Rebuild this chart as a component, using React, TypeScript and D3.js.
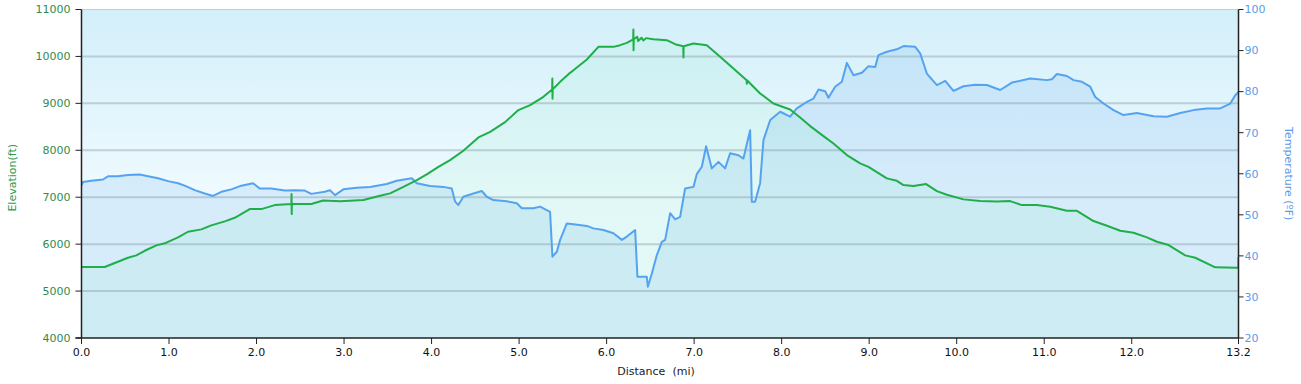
import React from 'react';
import * as d3 from 'd3';

// elevation profile, miles / feet
const elevDist = [
  0, 0.265, 0.531, 0.626, 0.722, 0.855, 0.951, 1.103, 1.217, 1.369, 1.483, 1.637, 1.751, 1.922, 2.055, 2.208,
  2.398, 2.4, 2.402, 2.404, 2.626, 2.76, 2.954, 3.221, 3.411, 3.526, 3.678, 3.831, 3.945, 4.078, 4.211, 4.363,
  4.535, 4.669, 4.84, 4.992, 5.126, 5.278, 5.378, 5.38, 5.382, 5.384, 5.469, 5.583, 5.621, 5.774, 5.906, 6.078,
  6.154, 6.231, 6.304, 6.306, 6.308, 6.31, 6.35, 6.36, 6.4, 6.42, 6.45, 6.535, 6.688, 6.783, 6.876, 6.878,
  6.88, 6.992, 7.145, 7.297, 7.449, 7.6, 7.602, 7.604, 7.754, 7.906, 8.097, 8.211, 8.326, 8.478, 8.592, 8.745,
  8.897, 8.992, 9.202, 9.316, 9.392, 9.506, 9.651, 9.774, 9.888, 10.078, 10.269, 10.459, 10.611, 10.745, 10.917,
  11.069, 11.259, 11.374, 11.563, 11.717, 11.869, 12.021, 12.174, 12.288, 12.421, 12.611, 12.726, 12.954, 13.2,
  13.219, 13.22,
];
const elevFt = [
  5512, 5512, 5710, 5761, 5859, 5974, 6017, 6144, 6264, 6315, 6400, 6485, 6562, 6747, 6747, 6832,
  6854, 7070, 6640, 6854, 6854, 6930, 6915, 6939, 7030, 7082, 7222, 7365, 7486, 7648, 7791, 7989,
  8274, 8393, 8600, 8856, 8962, 9139, 9296, 9530, 9100, 9300, 9458, 9650, 9707, 9935, 10204, 10204,
  10240, 10289, 10361, 10574, 10133, 10370, 10420, 10330, 10400, 10340, 10390, 10367, 10346, 10261, 10218, 9978,
  10218, 10276, 10240, 9991, 9744, 9494, 9420, 9494, 9211, 8998, 8870, 8700, 8515, 8302, 8146, 7897,
  7720, 7648, 7401, 7350, 7258, 7237, 7280, 7130, 7052, 6954, 6917, 6911, 6917, 6832, 6832,
  6796, 6711, 6711, 6492, 6392, 6285, 6242, 6144, 6051, 5981, 5761, 5710, 5506, 5497,
  5497, 5720,
];

// temperature, miles / ºF
const tempDist = [
  0, 0.017, 0.112, 0.246, 0.303, 0.417, 0.531, 0.665, 0.76, 0.874, 0.989, 1.103, 1.179, 1.294, 1.408, 1.503,
  1.598, 1.712, 1.826, 1.96, 2.037, 2.169, 2.322, 2.437, 2.551, 2.626, 2.779, 2.84, 2.897, 2.992, 3.145, 3.297,
  3.488, 3.602, 3.774, 3.831, 3.983, 4.135, 4.231, 4.269, 4.306, 4.363, 4.478, 4.574, 4.631, 4.706, 4.859, 4.974,
  5.031, 5.163, 5.24, 5.354, 5.381, 5.431, 5.469, 5.545, 5.621, 5.774, 5.849, 5.963, 6.078, 6.174, 6.231, 6.326,
  6.352, 6.459, 6.471, 6.517, 6.574, 6.631, 6.669, 6.726, 6.783, 6.84, 6.897, 6.992, 7.03, 7.088, 7.137, 7.202,
  7.278, 7.354, 7.411, 7.506, 7.563, 7.64, 7.659, 7.697, 7.754, 7.792, 7.869, 7.983, 8.097, 8.173, 8.288, 8.363,
  8.421, 8.497, 8.535, 8.611, 8.688, 8.745, 8.821, 8.917, 8.992, 9.069, 9.106, 9.202, 9.316, 9.392, 9.526, 9.583,
  9.659, 9.774, 9.869, 9.963, 10.078, 10.211, 10.345, 10.497, 10.631, 10.84, 11.031, 11.088, 11.145, 11.259, 11.335,
  11.431, 11.526, 11.583, 11.678, 11.792, 11.906, 12.059, 12.249, 12.402, 12.554, 12.707, 12.859, 13.011, 13.126,
  13.183, 13.22,
];
const tempF = [
  57.2, 58.0, 58.3, 58.6, 59.4, 59.4, 59.7, 59.8, 59.4, 58.9, 58.2, 57.7, 57.1, 56.0, 55.2, 54.6,
  55.6, 56.2, 57.1, 57.7, 56.4, 56.4, 55.9, 56.0, 55.9, 55.1, 55.6, 56.0, 54.8, 56.2, 56.6, 56.8,
  57.5, 58.3, 58.9, 57.7, 57.0, 56.8, 56.4, 53.2, 52.4, 54.4, 55.2, 55.8, 54.4, 53.6, 53.3, 52.8,
  51.6, 51.6, 52.0, 50.7, 39.8, 41.0, 43.9, 47.9, 47.7, 47.3, 46.7, 46.3, 45.5, 43.9, 44.7, 46.3,
  34.9, 34.9, 32.5, 35.7, 40.2, 43.4, 43.9, 50.4, 48.9, 49.5, 56.4, 56.8, 59.9, 61.7, 66.7, 61.3,
  62.9, 61.3, 65.0, 64.5, 63.7, 70.6, 53.2, 53.2, 57.7, 68.2, 73.1, 75.1, 73.9, 75.9, 77.5, 78.3,
  80.5, 80.1, 78.5, 81.2, 82.4, 87.0, 84.0, 84.6, 86.2, 86.0, 88.9, 89.7, 90.3, 91.1, 90.9, 89.3,
  84.4, 81.6, 82.6, 80.2, 81.3, 81.7, 81.6, 80.4, 82.2, 83.2, 82.8, 83.0, 84.3, 83.8, 82.8,
  82.4, 81.2, 78.7, 77.1, 75.5, 74.3, 74.8, 74.0, 73.9, 74.8, 75.5, 75.9, 75.9, 77.1,
  79.1, 79.9,
];

const distTicks = [0, 1, 2, 3, 4, 5, 6, 7, 8, 9, 10, 11, 12, 13.22];
const elevTicks = [4000, 5000, 6000, 7000, 8000, 9000, 10000, 11000];
const tempTicks = [20, 30, 40, 50, 60, 70, 80, 90, 100];

const W = 1301;
const H = 384;
const left = 81.5;
const right = 1238.5;
const top = 9.5;
const bottom = 338;
const font = '"DejaVu Sans", Verdana, sans-serif';

export default function App() {
  const x = d3.scaleLinear().domain([0, 13.22]).range([left, right]);
  const yE = d3.scaleLinear().domain([4000, 11000]).range([bottom, top]);
  const yT = d3.scaleLinear().domain([20, 100]).range([bottom, top]);

  const elev = elevDist.map((d, i) => [d, elevFt[i]] as [number, number]);
  const temp = tempDist.map((d, i) => [d, tempF[i]] as [number, number]);

  const elevArea = d3.area<[number, number]>().x((d) => x(d[0])).y0(bottom).y1((d) => yE(d[1]));
  const elevLine = d3.line<[number, number]>().x((d) => x(d[0])).y((d) => yE(d[1]));
  const tempArea = d3.area<[number, number]>().x((d) => x(d[0])).y0(bottom).y1((d) => yT(d[1]));
  const tempLine = d3.line<[number, number]>().x((d) => x(d[0])).y((d) => yT(d[1]));

  return (
    <svg width={W} height={H} style={{ position: 'absolute', left: 0, top: 0, background: '#fff' }}>
      <defs>
        <linearGradient id="bg" x1="0" y1="0" x2="0" y2="1">
          <stop offset="0%" stopColor="#d3effa" />
          <stop offset="55%" stopColor="#eefafe" />
          <stop offset="100%" stopColor="#f2fcfe" />
        </linearGradient>
        <clipPath id="plot">
          <rect x={left} y={top} width={right - left} height={bottom - top} />
        </clipPath>
      </defs>

      <rect x={left} y={top} width={right - left} height={bottom - top} fill="url(#bg)" />

      <g clipPath="url(#plot)">
        <path d={tempArea(temp) || ''} fill="rgba(95,165,240,0.17)" />
        <path d={elevArea(elev) || ''} fill="rgba(80,225,155,0.08)" />
        {elevTicks.slice(1, -1).map((t) => (
          <line key={t} x1={left} x2={right} y1={yE(t)} y2={yE(t)} stroke="rgba(140,160,170,0.45)" strokeWidth={2} />
        ))}
        <path d={tempLine(temp) || ''} fill="none" stroke="#55a3f0" strokeWidth={2} strokeLinejoin="round" />
        <path d={elevLine(elev) || ''} fill="none" stroke="#1fae48" strokeWidth={2} strokeLinejoin="round" />
      </g>

      <line x1={left} x2={right} y1={top} y2={top} stroke="#c4ccd0" strokeWidth={1} />

      {/* left axis */}
      <line x1={left} x2={left} y1={top} y2={bottom} stroke="#222" strokeWidth={1.5} />
      {elevTicks.map((t) => (
        <g key={t} transform={`translate(0,${yE(t)})`}>
          <line x1={left - 6} x2={left} stroke="#222" strokeWidth={1} />
          <text x={left - 11} dy="0.35em" textAnchor="end" fontSize={11} fontFamily={font} fill="#2e8b4f">
            {t}
          </text>
        </g>
      ))}
      <text
        transform={`translate(16,${(top + bottom) / 2 + 4}) rotate(-90)`}
        textAnchor="middle"
        fontSize={11}
        fontFamily={font}
        fill="#2e9a4f"
      >
        Elevation(ft)
      </text>

      {/* right axis */}
      <line x1={right} x2={right} y1={top} y2={bottom} stroke="#222" strokeWidth={1.5} />
      {tempTicks.map((t) => (
        <g key={t} transform={`translate(0,${yT(t)})`}>
          <line x1={right} x2={right + 5} stroke="#222" strokeWidth={1} />
          <text x={right + 6} dy="0.35em" fontSize={11} fontFamily={font} fill="#5b9be6">
            {t}
          </text>
        </g>
      ))}
      <text
        transform={`translate(1285,${(top + bottom) / 2}) rotate(90)`}
        textAnchor="middle"
        fontSize={11}
        fontFamily={font}
        fill="#5b9be6"
      >
        Temperature (ºF)
      </text>

      {/* bottom axis */}
      <line x1={left - 6} x2={right} y1={bottom} y2={bottom} stroke="#222" strokeWidth={1.5} />
      {distTicks.map((t) => (
        <g key={t} transform={`translate(${x(t)},0)`}>
          <line y1={bottom} y2={bottom + 6} stroke="#222" strokeWidth={1} />
          <text y={bottom + 14} dy="0.35em" textAnchor="middle" fontSize={11} fontFamily={font} fill="#111">
            {t.toFixed(1)}
          </text>
        </g>
      ))}
      <text x={656} y={375} textAnchor="middle" fontSize={11} fontFamily={font} fill="#222">
        Distance{'\u00a0\u00a0'}(mi)
      </text>
    </svg>
  );
}
